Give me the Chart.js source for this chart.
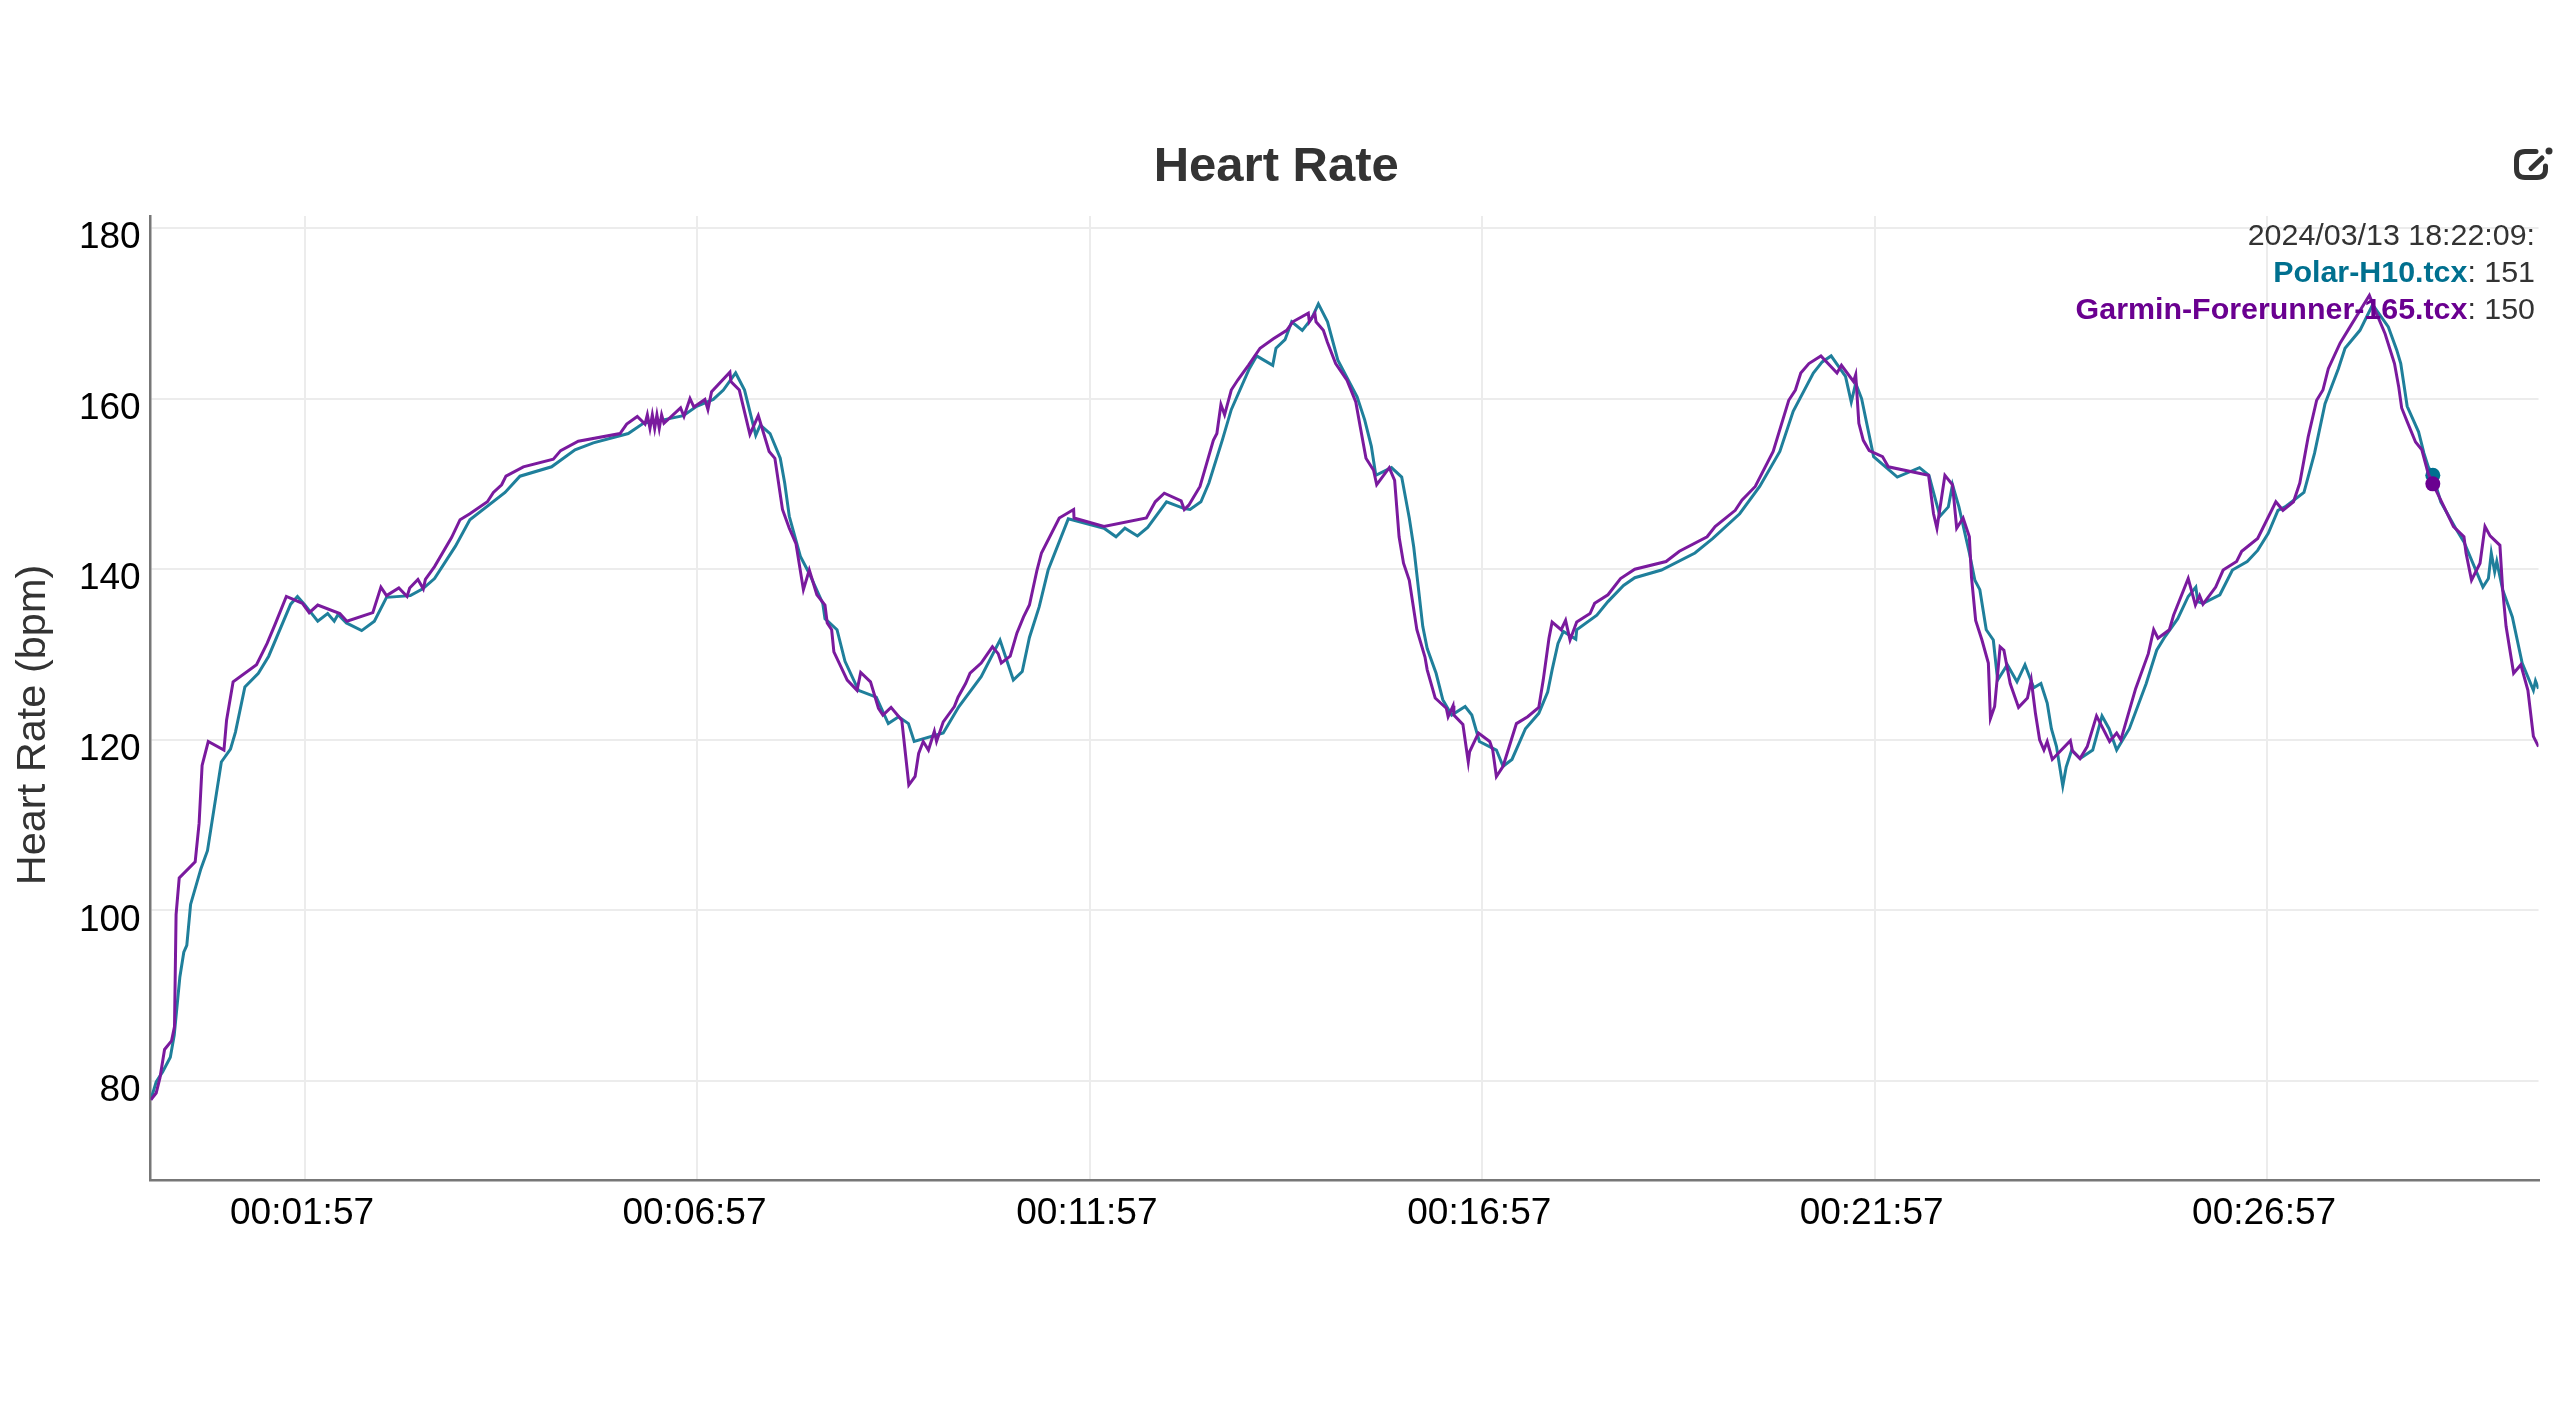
<!DOCTYPE html>
<html>
<head>
<meta charset="utf-8">
<title>Heart Rate</title>
<script src="https://cdn.jsdelivr.net/npm/chart.js@4"></script>
<style>
  body { margin: 0; background: #fff; }
  canvas { display: block; }
</style>
</head>
<body>
<canvas id="myChart" width="2560" height="1421"></canvas>
<script>
// seconds from start of the activity, bpm
const polarTimes = [-0.9,3.2,8.2,14,17,21.3,24.3,26.6,29.5,37.4,42.4,53,60,63.8,71,81.3,89.2,106,111.2,116.4,126.7,134.3,139.3,142.2,148.6,160.3,170,179.3,197.5,207,216,232,243,269.9,281.3,305.5,323.4,337.4,364.1,375.6,390.9,406.2,416.4,429.1,436.8,446.2,453,461.6,465,472.5,480.3,483.7,487.2,495.7,502.5,512.8,514.5,523.7,529.8,540.1,553.7,562.9,570.8,578.3,582.7,604.9,616.9,633.9,648.3,658.5,665.3,670.8,678.3,685.1,700.5,727.8,737,743.8,753.4,761.2,775.6,789.2,793.6,801.9,808,818.2,825.1,838.9,844.5,856.8,859.3,866.2,871.3,879.4,886.6,891.7,898.7,906.6,921.3,927.1,932.2,935.6,947.6,955.4,961.2,964.6,971.5,974.9,981.7,986.8,993.6,1003.9,1009,1014.8,1027.8,1032.9,1039.7,1050,1060.2,1067,1070.4,1074.9,1079,1088.5,1089.2,1104.6,1113.1,1125,1133.6,1154,1179.6,1193.3,1213.8,1229.1,1244.5,1254.7,1270.1,1276.9,1283.7,1294.7,1299.1,1302.5,1307,1316.2,1334.3,1351.3,1358.5,1366.9,1373.3,1376.5,1381.4,1389.4,1393.6,1397.4,1402.3,1407.7,1411,1418.4,1425.8,1431.9,1438.6,1444.1,1448.9,1452.1,1456,1460.8,1463.4,1467.6,1474,1483.7,1490.8,1496.2,1502,1511.7,1524.6,1532.6,1539,1548.7,1556.7,1562.5,1564.1,1568,1580.9,1590.5,1601.8,1609.8,1617.9,1625.3,1630.7,1645.2,1653.3,1661.3,1671.5,1676.6,1688,1697.7,1709.7,1716.1,1719.2,1724.1,1732.8,1736.9,1740.2,1743.7,1749.8,1761.1,1767.5,1782,1786.2,1788.4,1791,1792.6,1797.1,1804.5,1812,1820.6,1822.2,1824.5];
const polarBpm = [77.8,79.9,81.1,82.8,85.4,92.2,95.1,95.9,100.7,104.9,107,117.4,118.9,120.9,126.2,127.8,129.8,135.9,136.8,135.9,133.9,134.8,133.9,134.7,133.7,132.8,133.9,136.7,136.9,137.7,138.9,142.7,145.8,149,150.9,152,154,154.8,155.9,157.1,157.5,158,159.1,159.9,161,163,161,155.7,156.9,155.9,153,150.1,146.2,141.5,139.5,136,134.2,132.9,129.2,125.8,125,121.9,122.7,121.9,119.8,120.8,123.9,127.4,131.7,127,128,132,135.6,139.9,145.9,144.8,143.8,144.8,143.9,144.9,147.9,147.1,147,147.9,150.1,155.1,158.7,163.5,165,163.9,165.9,166.9,169,168,169.4,171.1,169,164.5,160.2,157.5,154.4,151,151.9,150.8,146,142.6,133.3,130.7,127.8,124.7,122.9,123.9,122.9,119.8,118.8,116.9,117.7,121.3,123.1,125.6,128.2,131.3,132.7,131.8,132.9,134.6,136.2,138.1,139,139.9,141.9,143.6,146.5,149.7,153.8,158.5,163,164.3,165,162.6,159.6,161.8,160,153.2,150.8,151.9,151,146.2,147.3,149.9,147.3,141.9,138.7,137.6,132.9,131.7,127,128.8,126.8,128.8,126.1,126.6,124.3,121.3,119.2,114.6,116.8,118.8,117.8,118.8,122.8,121.3,118.8,121.3,126.6,130.5,132.1,134.2,136.8,137.9,136.2,136,137,139.9,140.9,142.2,144.2,146.9,147.3,149,153.6,159.4,163.5,165.9,168,171,168.4,165.7,164.1,159.1,156.1,153.6,152,151,147.9,144.8,143.2,137.9,138.9,141.9,139.7,140.9,137.6,134.4,129,125.8,126.9,126];

const garminTimes = [-0.9,3.2,6.1,9.6,14.9,17.2,18.4,20.8,33,36,38.3,43,55,57,62,79.9,88,94,102.7,115,120.2,126.7,143.6,149,168.8,175,179.3,188.7,195,197,203.3,207.4,209,216,229,235.5,243,256.4,261,267.3,270.6,283.9,306.8,312.4,325.9,357.8,362.9,371,376.9,378.7,380.7,382.5,384.3,386,387.8,389.6,391.4,404.1,406.7,411.3,414.3,422.7,425,427.8,441.8,442.6,449,457.1,463.5,471.8,476.2,482,487.2,492.3,498,502.5,508.3,514.5,516.2,519.6,521.3,531.5,539,541.8,549.3,555.4,558.8,565,573.2,578.6,583.4,586.1,589.6,593.6,598.1,599.8,604.9,613.4,616.2,622,625.4,633.9,642.5,646.9,649.3,656.1,661.2,666.3,670.8,676.6,680,693.6,704.6,704.9,727.8,760.2,767,773.9,786.8,789.2,792.6,801.2,806.3,811.4,814.1,817.2,820,825.1,830.2,838.2,847.1,857.3,867.5,872.1,884,884.8,889,889.9,895.5,898.6,904.9,913.4,920.3,923.7,928.1,933.9,936.3,945.9,950,953.4,956.8,961.2,967,973.2,974.9,981,989.5,990.9,994.7,995.3,1002.2,1006.3,1007.3,1014.1,1022.7,1025,1027.8,1032.9,1043.1,1051.7,1060.2,1063.6,1068,1070.4,1077.3,1080.7,1084.1,1089.2,1099.4,1102.9,1113.1,1122.7,1133.6,1157.5,1167.7,1188.9,1195,1210.4,1215.5,1225.7,1239.4,1251.3,1256.4,1260.5,1266.7,1275.9,1288.2,1291.6,1300.8,1302.5,1304.9,1308.3,1312.8,1323,1327.4,1358.2,1362,1364.6,1370.7,1376.5,1379.7,1384.6,1389.4,1391,1394.2,1399,1403.9,1405.5,1408.7,1412.9,1415.8,1420.6,1427,1433.8,1436.7,1439.9,1443.1,1446.4,1448.9,1452.8,1466.6,1468.2,1474,1479.5,1486.6,1496.6,1502,1505.2,1516.5,1526.2,1530.3,1533.6,1542.3,1545.5,1556.7,1562.2,1565.4,1568,1577.7,1583.4,1593.7,1597.6,1609.8,1623.7,1629.1,1637.2,1642,1648.4,1654.9,1659.7,1663.8,1672.8,1680.4,1695.2,1699.5,1707.2,1714.4,1717.6,1719.9,1724.1,1730.5,1735.3,1740.2,1743.7,1749.8,1759.5,1767.5,1769.1,1773.3,1779.8,1783.6,1787.5,1795,1797.1,1799.7,1805.5,1811,1816.4,1820.6,1824.5];
const garminBpm = [77.8,78.6,80.4,83.7,84.7,86.4,99.5,103.8,105.7,110.2,117,119.8,118.8,122.3,126.8,128.8,131.3,133.5,136.8,136,134.9,135.8,134.8,133.9,134.9,137.9,136.9,137.8,136.8,137.8,138.8,137.7,138.8,140.3,143.7,145.8,146.5,147.9,149,149.9,150.9,152,152.9,153.9,155,155.9,157,157.9,157,158.1,156.5,158.1,156.5,158.1,156.5,158.1,157.1,158.9,157.9,160,159,159.9,158.7,160.8,163.1,162,161,155.8,158,153.8,153,147,144.8,143,137.6,139.9,137,135.8,133.7,132.9,130.3,127,125.8,127.9,126.8,123.7,122.9,123.8,122.3,114.7,115.7,118.4,119.8,118.8,121,119.8,122.1,123.9,125,126.6,127.8,129,130.9,130.1,129,129.8,132.5,134.4,135.8,139.9,141.9,146,147,146,145,146,147.9,148.9,148,147,147.5,149.7,152.4,155.1,155.9,159.3,158.1,161,162.2,163.9,165.9,167,168,169,170,169,170,169,168,166.6,164.1,162.2,159.6,156.7,153,151.6,149.9,151.9,150.4,143.8,140.7,138.7,132.9,129.7,128.2,124.9,123.7,122.7,124,122.9,121.8,117.4,118.6,120.8,119.8,118.8,115.7,116.9,121.9,122.7,123.8,127,131.9,133.8,132.9,134,131.7,133.8,134.8,136,137,138.9,140,140.9,142.1,143.8,145,146.9,148.1,149.7,153.8,159.8,161,163,164.1,165,163,163.9,162,162.8,157.1,155.1,153.9,153.2,152,151,146.5,144.8,151,149.9,144.8,146,143.8,139.1,134,131.7,129,122.5,123.9,130.9,130.5,126.6,123.8,124.9,127,123.1,120,118.8,119.8,117.7,119.9,118.7,117.8,119.2,122.8,119.8,120.8,120,126,130.1,132.9,131.9,132.9,134.6,138.9,135.8,136.9,135.9,137.9,139.9,140.9,142.1,143.6,147.9,146.9,147.9,150.1,155.5,159.8,161,163.5,166.5,168.4,172.1,170.4,167.6,164.1,161.4,158.9,157.3,154.9,154,151.2,150,148.1,145,143.8,141.9,138.7,140.7,145,143.9,142.8,137.6,133.3,127.8,128.8,125.8,120.4,119.2];

const xTickValues = [117, 417, 717, 1017, 1317, 1617];
const xTickLabels = ["00:01:57", "00:06:57", "00:11:57", "00:16:57", "00:21:57", "00:26:57"];
const yTickValues = [80, 100, 120, 140, 160, 180];

const hoverTime = 1743.7;
const hoverStamp = "2024/03/13 18:22:09:";
const hoverPolar = 151;
const hoverGarmin = 150;

const polarName = "Polar-H10.tcx";
const garminName = "Garmin-Forerunner-165.tcx";
const polarColor = "#00708f";
const garminColor = "#6a0090";

function toPoints(times, values) {
    return times.map((t, i) => ({ x: t, y: values[i] }));
}

function hoverRadius(ctx) {
    return ctx.raw && ctx.raw.x === hoverTime ? 7.5 : 0;
}

// y axis title sits lower than the axis middle, readout and edit icon are not chart elements
const overlay = {
    id: "overlay",
    afterDraw(chart) {
        const c = chart.ctx;
        c.save();
        c.fillStyle = "#333";
        c.translate(34, 725);
        c.rotate(-Math.PI / 2);
        c.textAlign = "center";
        c.textBaseline = "middle";
        c.font = "41.5px 'Liberation Sans'";
        c.fillText("Heart Rate (bpm)", 0, 0);
        c.restore();

        c.save();
        c.textBaseline = "middle";
        c.textAlign = "right";
        readout(c, 237, null, hoverStamp);
        readout(c, 274, polarName, ": " + hoverPolar, polarColor);
        readout(c, 311, garminName, ": " + hoverGarmin, garminColor);
        c.restore();

        c.save();
        c.strokeStyle = "#333";
        c.fillStyle = "#333";
        c.lineWidth = 5;
        c.lineCap = "round";
        c.beginPath();
        c.moveTo(2536, 151.5);
        c.lineTo(2525, 151.5);
        c.quadraticCurveTo(2516.5, 151.5, 2516.5, 160);
        c.lineTo(2516.5, 169);
        c.quadraticCurveTo(2516.5, 177.5, 2525, 177.5);
        c.lineTo(2537, 177.5);
        c.quadraticCurveTo(2545.5, 177.5, 2545.5, 169);
        c.lineTo(2545.5, 166);
        c.moveTo(2531, 168.5);
        c.lineTo(2542, 158);
        c.stroke();
        c.beginPath();
        c.arc(2549, 151, 3.5, 0, Math.PI * 2);
        c.fill();
        c.restore();
    }
};

function readout(c, y, name, rest, color) {
    c.font = "30.4px 'Liberation Sans'";
    c.fillStyle = "#333";
    c.fillText(rest, 2535, y);
    if (name) {
        let w = c.measureText(rest).width;
        c.font = "bold 30.4px 'Liberation Sans'";
        c.fillStyle = color;
        c.fillText(name, 2535 - w, y);
    }
}

let ctx = document.querySelector("#myChart");
let myChart = new Chart(ctx, {
    type: "line",
    data: {
        datasets: [
            {
                label: garminName,
                data: toPoints(garminTimes, garminBpm),
                borderColor: "#7a1a9e",
                backgroundColor: garminColor,
                borderWidth: 3,
                pointRadius: hoverRadius,
                pointBackgroundColor: garminColor,
                pointBorderWidth: 0,
                tension: 0,
                order: 1
            },
            {
                label: polarName,
                data: toPoints(polarTimes, polarBpm),
                borderColor: "#1f7f9b",
                backgroundColor: polarColor,
                borderWidth: 3,
                pointRadius: hoverRadius,
                pointBackgroundColor: polarColor,
                pointBorderWidth: 0,
                tension: 0,
                order: 2
            }
        ]
    },
    options: {
        responsive: false,
        animation: false,
        events: [],
        layout: { padding: { left: 14, right: 21.5, top: 0, bottom: 0 } },
        plugins: {
            legend: { display: false },
            tooltip: { enabled: false },
            title: {
                display: true,
                text: "Heart Rate",
                color: "#333",
                font: { family: "'Liberation Sans'", size: 49, weight: "bold" },
                padding: { top: 138, bottom: 19.2 }
            }
        },
        scales: {
            x: {
                type: "linear",
                min: -1,
                max: 1824.5,
                afterBuildTicks(scale) {
                    scale.ticks = xTickValues.map((v) => ({ value: v }));
                },
                afterFit(scale) {
                    scale.height = 241;
                },
                grid: { color: "#ececec", lineWidth: 2, drawTicks: false },
                border: { color: "#777", width: 2.5 },
                ticks: {
                    color: "#000",
                    font: { family: "'Liberation Sans'", size: 37 },
                    padding: 12,
                    labelOffset: -3,
                    maxRotation: 0,
                    autoSkip: false,
                    callback: (v) => xTickLabels[xTickValues.indexOf(v)]
                }
            },
            y: {
                min: 68.4,
                max: 181.4,
                afterBuildTicks(scale) {
                    scale.ticks = yTickValues.map((v) => ({ value: v }));
                },
                afterFit(scale) {
                    scale.width = 136.7;
                },
                grid: { color: "#ececec", lineWidth: 2, drawTicks: false },
                border: { color: "#777", width: 2.5 },
                ticks: {
                    color: "#000",
                    font: { family: "'Liberation Sans'", size: 37 },
                    padding: 10,
                    labelOffset: 10,
                    autoSkip: false
                }
            }
        }
    },
    plugins: [overlay]
});
</script>
</body>
</html>
